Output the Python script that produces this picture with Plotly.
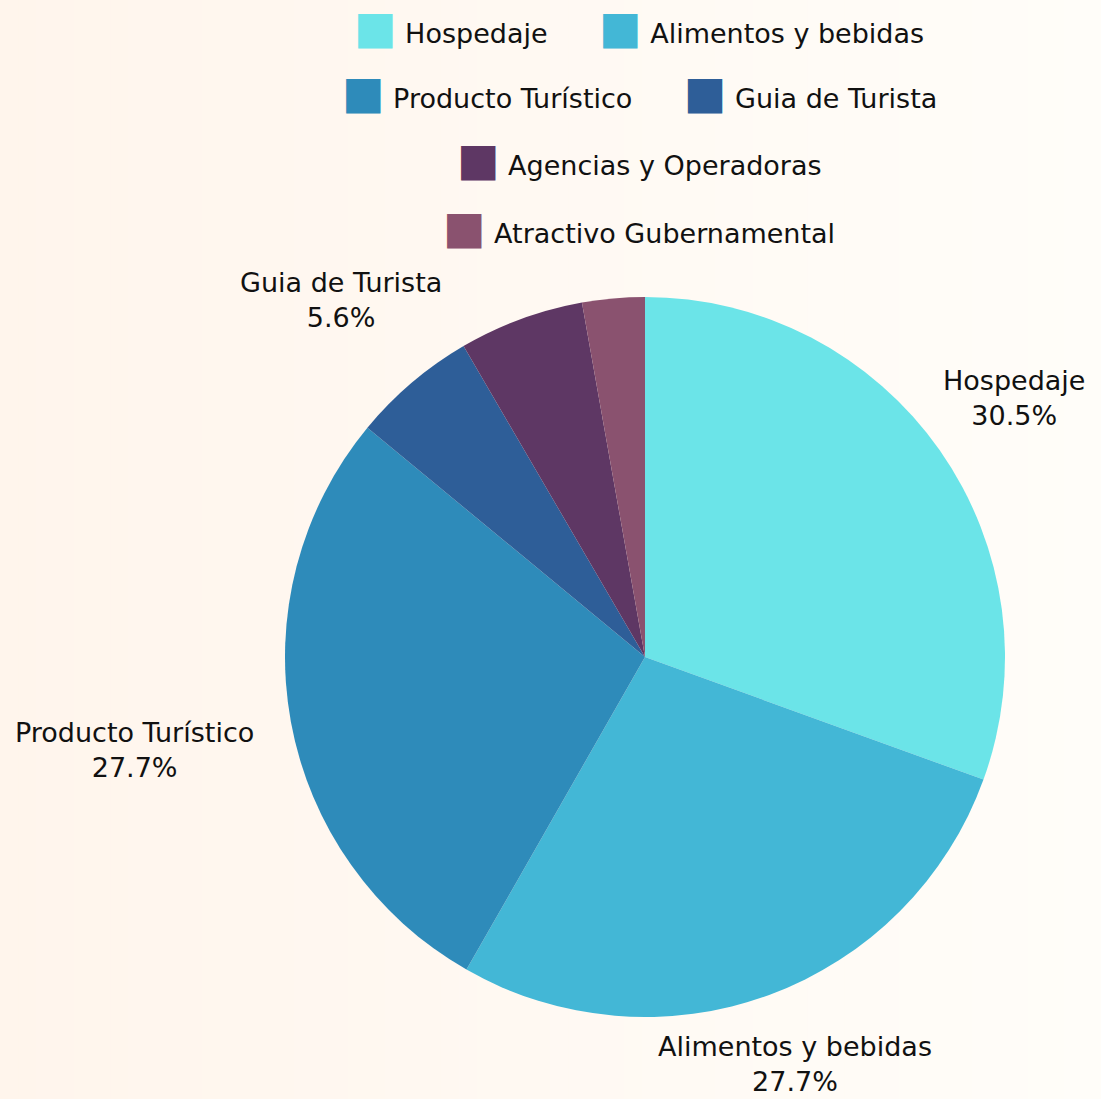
import math
import plotly.graph_objects as go

labels = ["Hospedaje", "Alimentos y bebidas", "Producto Turístico",
          "Guia de Turista", "Agencias y Operadoras", "Atractivo Gubernamental"]
values = [30.5, 27.7, 27.7, 5.6, 5.6, 2.8]
colors = ["#6BE4E8", "#43B7D6", "#2E8BBA", "#2E5E98", "#5E3764", "#8A526F"]
show_label = [True, True, True, True, False, False]
legend_rows = [[0, 1], [2, 3], [4], [5]]

FONT = "DejaVu Sans"
FS = 27
W, H = 1101, 1099
PIE_CX, PIE_CY, PIE_R = 645, 657, 360   # pixel geometry of the pie
LABEL_GAP = 14
CHAR_W = 0.58 * FS      # rough average glyph advance
LINE_H = 33

fig = go.Figure()
fig.add_trace(go.Pie(
    labels=labels,
    values=values,
    sort=False,
    direction="clockwise",
    rotation=0,
    marker=dict(colors=colors, line=dict(width=0)),
    textinfo="none",
    showlegend=False,
    hoverinfo="label+percent",
    domain=dict(x=[(PIE_CX - PIE_R) / W, (PIE_CX + PIE_R) / W],
                y=[1 - (PIE_CY + PIE_R) / H, 1 - (PIE_CY - PIE_R) / H]),
))

annotations = []

# outside slice labels, centred on each slice's radial mid-line
total = sum(values)
cum = 0.0
for i, v in enumerate(values):
    mid = (cum + v / 2) / total * 2 * math.pi
    cum += v
    if not show_label[i]:
        continue
    pct = "%.1f%%" % (v / total * 100)
    dx, dy = math.sin(mid), -math.cos(mid)
    hw = max(len(labels[i]), len(pct)) * CHAR_W / 2
    hh = LINE_H
    target = PIE_R + LABEL_GAP
    lo, hi = 0.0, 2000.0
    for _ in range(60):
        t = (lo + hi) / 2
        ex = max(t * abs(dx) - hw, 0)
        ey = max(t * abs(dy) - hh, 0)
        if math.hypot(ex, ey) < target:
            lo = t
        else:
            hi = t
    px = PIE_CX + t * dx
    py = PIE_CY + t * dy
    annotations.append(dict(
        text="%s<br>%s" % (labels[i], pct), x=px / W, y=1 - py / H,
        xref="paper", yref="paper", xanchor="center", yanchor="middle",
        showarrow=False, align="center",
        font=dict(family=FONT, size=FS, color="#111111")))

# soft horizontal background gradient
shapes = []
n = 60
c0 = (255, 245, 236)
c1 = (255, 253, 249)
for k in range(n):
    f = (k + 0.5) / n
    col = tuple(round(c0[j] + (c1[j] - c0[j]) * f) for j in range(3))
    shapes.append(dict(type="rect", xref="paper", yref="paper",
                       x0=k / n, x1=(k + 1) / n + 0.002, y0=0, y1=1,
                       fillcolor="rgb(%d,%d,%d)" % col, line=dict(width=0),
                       layer="below"))

# legend rows (each centred)
row_y = [28, 92, 159, 227]
for r, idxs in enumerate(legend_rows):
    parts = []
    for i in idxs:
        parts.append("<span style='color:%s;font-size:45px'>■</span> %s" % (colors[i], labels[i]))
    annotations.append(dict(
        text="      ".join(parts), x=639 / W, y=1 - row_y[r] / H,
        xref="paper", yref="paper", xanchor="center", yanchor="middle",
        showarrow=False, font=dict(family=FONT, size=FS, color="#111111")))

fig.update_layout(
    width=W, height=H,
    margin=dict(l=0, r=0, t=0, b=0),
    paper_bgcolor="#FFF9F3",
    plot_bgcolor="rgba(0,0,0,0)",
    shapes=shapes,
    annotations=annotations,
    font=dict(family=FONT),
)

fig.write_html("out.html", config={"displayModeBar": False},
               post_script="document.body.style.margin='0px';")
